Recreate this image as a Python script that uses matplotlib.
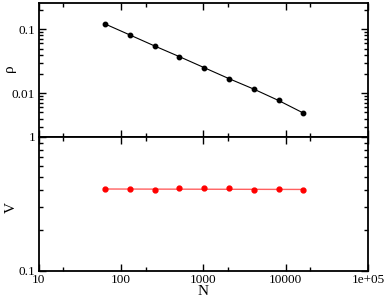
import matplotlib
matplotlib.use("Agg")
import matplotlib.pyplot as plt
from matplotlib.ticker import FixedLocator, NullFormatter, FixedFormatter

# Data
N = [64, 128, 256, 512, 1024, 2048, 4096, 8192, 16384]
rho = [0.121, 0.0815, 0.0548, 0.0373, 0.0251, 0.0169, 0.0116, 0.0077, 0.0049]
V = [0.407, 0.405, 0.398, 0.416, 0.412, 0.416, 0.400, 0.409, 0.398]
fit_N = [64, 16384]
fit_V = [0.407, 0.404]

x_major = [10, 100, 1000, 10000, 100000]
x_major_labels = ["10", "100", "1000", "10000", "1e+05"]
x_minor = [20, 200, 2000, 20000]
rho_major = [0.01, 0.1]
rho_major_labels = ["0.01", "0.1"]
V_major = [0.1, 1]
V_major_labels = ["0.1", "1"]

plt.rcParams['font.family'] = ['Liberation Serif', 'DejaVu Serif']

fig = plt.figure(figsize=(3.85, 2.98), dpi=100)
ax1 = fig.add_axes([0.1005, 0.5413, 0.8553, 0.4487])
ax2 = fig.add_axes([0.1005, 0.0916, 0.8553, 0.4497])

for ax in (ax1, ax2):
    ax.set_xscale('log')
    ax.set_yscale('log')
    ax.set_xlim(10, 1e5)
    ax.xaxis.set_major_locator(FixedLocator(x_major))
    ax.xaxis.set_minor_locator(FixedLocator(x_minor))
    ax.xaxis.set_minor_formatter(NullFormatter())
    ax.yaxis.set_minor_formatter(NullFormatter())
    for s in ax.spines.values():
        s.set_linewidth(1.3)
    ax.tick_params(which='both', direction='in', top=True, right=True,
                   width=1.0, labelsize=9.5)
    ax.tick_params(which='major', length=5, pad=2.5)
    ax.tick_params(which='minor', length=3)

# Top panel
ax1.plot(N, rho, color='black', lw=0.8, marker='o', ms=3.2)
ax1.set_ylim(0.00209, 0.2576)
ax1.yaxis.set_major_locator(FixedLocator(rho_major))
ax1.yaxis.set_major_formatter(FixedFormatter(rho_major_labels))
ax1.set_xticklabels([])
ax1.set_ylabel('ρ', fontsize=11)
ax1.yaxis.set_label_coords(-0.068, 0.514)

# Bottom panel
ax2.plot(fit_N, fit_V, color='#ff6060', lw=1.0)
ax2.plot(N, V, color='red', lw=0, marker='o', ms=3.5)
ax2.set_ylim(0.1, 1)
ax2.yaxis.set_major_locator(FixedLocator(V_major))
ax2.yaxis.set_major_formatter(FixedFormatter(V_major_labels))
ax2.xaxis.set_major_formatter(FixedFormatter(x_major_labels))
ax2.set_xlabel('N', fontsize=11, labelpad=-1)
ax2.set_ylabel('V', fontsize=11)
ax2.yaxis.set_label_coords(-0.064, 0.468)

fig.savefig('out.png', dpi=100)
